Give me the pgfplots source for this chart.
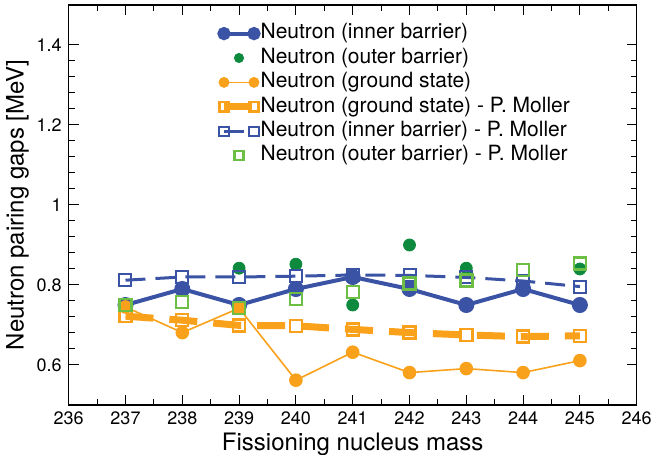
\documentclass[border=0pt]{standalone}
\usepackage{pgfplots}
\pgfplotsset{compat=1.18}
\usepackage{fontspec}
\setmainfont{TeX Gyre Heros}
\usetikzlibrary{calc}
\definecolor{cblue}{HTML}{3A53A4}
\definecolor{cgreen}{HTML}{0E8A3E}
\definecolor{corange}{HTML}{F9A11B}
\definecolor{clgreen}{HTML}{6CBE45}
\pgfplotsset{
  twomark legend/.style={legend image code/.code={\draw[mark repeat=2,mark phase=1,##1] plot coordinates {(0pt,0pt)(7.5pt,0pt)(15pt,0pt)};}},
  onemark legend/.style={legend image code/.code={\draw[##1] plot coordinates {(7.5pt,0pt)};}},
}
\begin{document}
\begin{tikzpicture}
\begin{axis}[
  width=284pt, height=200pt, scale only axis,
  xmin=236, xmax=246, ymin=0.5, ymax=1.5,
  xtick={236,...,246}, ytick={0.6,0.8,1,1.2,1.4},
  minor x tick num=1, minor y tick num=4,
  major tick length=5pt, minor tick length=3pt,
  tick style={black, line width=0.5pt},
  axis line style={line width=0.7pt},
  /pgf/number format/assume math mode=true,
  xticklabel style={font=\fontsize{9}{10}\selectfont},
  yticklabel style={font=\fontsize{9}{10}\selectfont},
  x tick label style={/pgf/number format/1000 sep={}},
  xlabel={Fissioning nucleus mass},
  ylabel={Neutron pairing gaps [MeV]},
  label style={font=\fontsize{12}{14}\selectfont},
  xlabel style={yshift=3pt},
  ylabel style={yshift=-3pt},
  legend cell align=left,
  legend style={at={(0.2646,0.96)}, anchor=north west, draw=none, fill=none,
    font=\fontsize{10.5}{12.5}\selectfont, row sep=0pt, inner sep=0pt,
    nodes={inner sep=1pt, text height=7.8pt, text depth=2.4pt}},
  legend image post style={mark size=2.3pt},
  twomark legend,
]
% inner barrier
\addplot[cblue, line width=2pt, mark=*, mark size=3pt, mark options={solid}] coordinates {
(237,0.75)(238,0.79)(239,0.75)(240,0.79)(241,0.82)(242,0.79)(243,0.75)(244,0.79)(245,0.75)};
\addlegendentry{Neutron (inner barrier)}
% outer barrier
\addplot[cgreen, only marks, mark=*, mark size=3pt, onemark legend] coordinates {
(239,0.842)(240,0.852)(241,0.75)(242,0.90)(243,0.842)(245,0.84)};
\addlegendentry{Neutron (outer barrier)}
% ground state
\addplot[corange, line width=0.8pt, mark=*, mark size=3pt] coordinates {
(237,0.745)(238,0.681)(239,0.742)(240,0.562)(241,0.632)(242,0.581)(243,0.591)(244,0.581)(245,0.611)};
\addlegendentry{Neutron (ground state)}
% ground state Moller
\addplot[corange, line width=3.5pt, dash pattern=on 14pt off 8pt, mark=square, mark size=3pt,
  mark options={solid, line width=1.2pt, fill=white}] coordinates {
(237,0.722)(238,0.712)(239,0.699)(240,0.698)(241,0.689)(242,0.681)(243,0.675)(244,0.671)(245,0.673)};
\addlegendentry{Neutron (ground state) - P. Moller}
% inner Moller
\addplot[cblue, line width=1.5pt, dash pattern=on 10pt off 5pt, mark=square, mark size=3pt,
  mark options={solid, line width=1pt, fill=white}] coordinates {
(237,0.812)(238,0.82)(239,0.82)(240,0.822)(241,0.825)(242,0.824)(243,0.819)(244,0.81)(245,0.796)};
\addlegendentry{Neutron (inner barrier) - P. Moller}
% outer Moller
\addplot[clgreen, only marks, mark=square, mark size=3pt, mark options={line width=1.2pt}, onemark legend] coordinates {
(237,0.75)(238,0.757)(239,0.742)(240,0.765)(241,0.783)(242,0.804)(243,0.811)(244,0.8375)(245,0.854)};
\addlegendentry{Neutron (outer barrier) - P. Moller}
\end{axis}
\pgfresetboundingbox
\useasboundingbox ($(current axis.south west)+(-34.35pt,-25pt)$) rectangle ($(current axis.south west)+(292.65pt,202.5pt)$);
\end{tikzpicture}
\end{document}
